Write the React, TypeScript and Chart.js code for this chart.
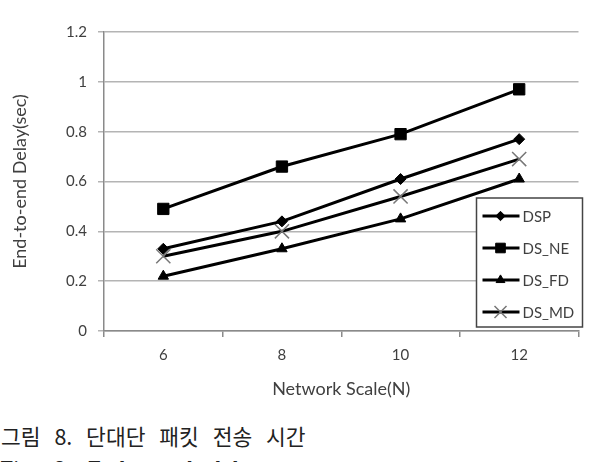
import React, { useEffect, useRef } from 'react';
import { Chart, registerables } from 'chart.js';
import { drawPoint } from 'chart.js/helpers';

Chart.register(...registerables);

const categories = ['6', '8', '10', '12'];
const seriesNames = ['DSP', 'DS_NE', 'DS_FD', 'DS_MD'];
const dspValues = [0.33, 0.44, 0.61, 0.77];
const dsNeValues = [0.49, 0.66, 0.79, 0.97];
const dsFdValues = [0.22, 0.33, 0.45, 0.61];
const dsMdValues = [0.3, 0.4, 0.54, 0.69];
const yTickValues = [0, 0.2, 0.4, 0.6, 0.8, 1, 1.2];
const yTickLabels = ['0', '0.2', '0.4', '0.6', '0.8', '1', '1.2'];
const xTitle = 'Network Scale(N)';
const yTitle = 'End-to-end Delay(sec)';
const captionKo = '그림 8. 단대단 패킷 전송 시간';
const captionEn = 'Fig. 8. End-to-end delay';

const FONT = 'Lato, "Open Sans", sans-serif';
const TEXT = '#404040';

const legendPlugin = {
  id: 'boxLegend',
  afterDraw(chart: any) {
    const { ctx, chartArea } = chart;
    const w = 106;
    const h = 129;
    const x = chartArea.right + 4 - w;
    const y = chartArea.bottom - 4 - h;
    ctx.save();
    ctx.fillStyle = '#ffffff';
    ctx.fillRect(x, y, w, h);
    ctx.strokeStyle = '#444';
    ctx.lineWidth = 1.5;
    ctx.strokeRect(x, y, w, h);
    chart.data.datasets.forEach((ds: any, i: number) => {
      const ry = y + 18 + i * 32;
      ctx.strokeStyle = '#000';
      ctx.lineWidth = 3;
      ctx.beginPath();
      ctx.moveTo(x + 6, ry);
      ctx.lineTo(x + 43, ry);
      ctx.stroke();
      ctx.fillStyle = ds.pointBackgroundColor;
      ctx.strokeStyle = ds.pointBorderColor;
      ctx.lineWidth = ds.pointBorderWidth;
      drawPoint(ctx, { pointStyle: ds.pointStyle, radius: ds.pointRadius * 0.85, borderWidth: ds.pointBorderWidth, rotation: 0 }, x + 24, ry);
      ctx.fillStyle = TEXT;
      ctx.font = `15px ${FONT}`;
      ctx.textBaseline = 'middle';
      ctx.textAlign = 'left';
      ctx.fillText(ds.label, x + 46, ry + 1);
    });
    ctx.restore();
  },
};

export default function App() {
  const ref = useRef<HTMLCanvasElement>(null);
  useEffect(() => {
    if (!ref.current) return;
    const mk = (label: string, data: number[], style: string, radius: number, extra: any = {}) => ({
      label,
      data,
      borderColor: '#000',
      backgroundColor: '#000',
      borderWidth: 3,
      pointStyle: style,
      pointRadius: radius,
      pointBackgroundColor: '#000',
      pointBorderColor: '#000',
      pointBorderWidth: 1,
      tension: 0,
      ...extra,
    });
    const chart = new Chart(ref.current, {
      type: 'line',
      data: {
        labels: categories,
        datasets: [
          mk(seriesNames[0], dspValues, 'rectRot', 5.5),
          mk(seriesNames[1], dsNeValues, 'rect', 8),
          mk(seriesNames[2], dsFdValues, 'triangle', 6),
          mk(seriesNames[3], dsMdValues, 'crossRot', 10, { pointBorderColor: '#777', pointBorderWidth: 1.5 }),
        ],
      },
      options: {
        responsive: false,
        animation: false,
        devicePixelRatio: 1,
        layout: { padding: { left: 0, right: 11, top: 32, bottom: 0 } },
        plugins: { legend: { display: false }, tooltip: { enabled: false } },
        scales: {
          x: {
            offset: true,
            grid: { offset: true, drawOnChartArea: false, drawTicks: true, tickLength: 6, color: '#8a8a8a', lineWidth: 1.5 },
            border: { color: '#8a8a8a', width: 1.5 },
            ticks: { color: TEXT, font: { family: FONT, size: 15 }, padding: 9 },
            title: { display: true, text: xTitle, color: TEXT, font: { family: FONT, size: 18 }, padding: { top: 4, bottom: 0 } },
            afterFit: (s: any) => { s.height = 69; },
          },
          y: {
            min: 0,
            max: 1.2,
            afterBuildTicks: (s: any) => { s.ticks = yTickValues.map((v) => ({ value: v })); },
            grid: { color: '#b4b4b4', lineWidth: 1.5, tickLength: 6 },
            border: { color: '#8a8a8a', width: 1.5 },
            ticks: {
              color: TEXT,
              font: { family: FONT, size: 15 },
              padding: 11,
              callback: (_v: any, i: number) => yTickLabels[i],
            },
            title: { display: true, text: yTitle, color: TEXT, font: { family: FONT, size: 18 }, padding: { top: 9, bottom: 0 } },
            afterFit: (s: any) => { s.width = 104; },
          },
        },
      },
      plugins: [legendPlugin],
    });
    return () => chart.destroy();
  }, []);

  return (
    <div style={{ position: 'absolute', left: 0, top: 0, width: 590, height: 462, overflow: 'hidden', background: '#fff' }}>
      <canvas ref={ref} width={590} height={400} style={{ display: 'block' }} />
      <div
        style={{
          position: 'absolute',
          left: 1,
          top: 422,
          whiteSpace: 'pre',
          fontFamily: '"Noto Sans CJK KR", sans-serif',
          fontSize: 21.5,
          lineHeight: '28px',
          wordSpacing: 9,
          color: '#222',
        }}
      >
        {captionKo}
      </div>
      <div
        style={{
          position: 'absolute',
          left: 0,
          top: 457,
          whiteSpace: 'pre',
          fontFamily: '"DejaVu Serif", serif',
          fontSize: 19,
          lineHeight: '22px',
          wordSpacing: 10,
          color: '#222',
        }}
      >
        {captionEn}
      </div>
    </div>
  );
}
